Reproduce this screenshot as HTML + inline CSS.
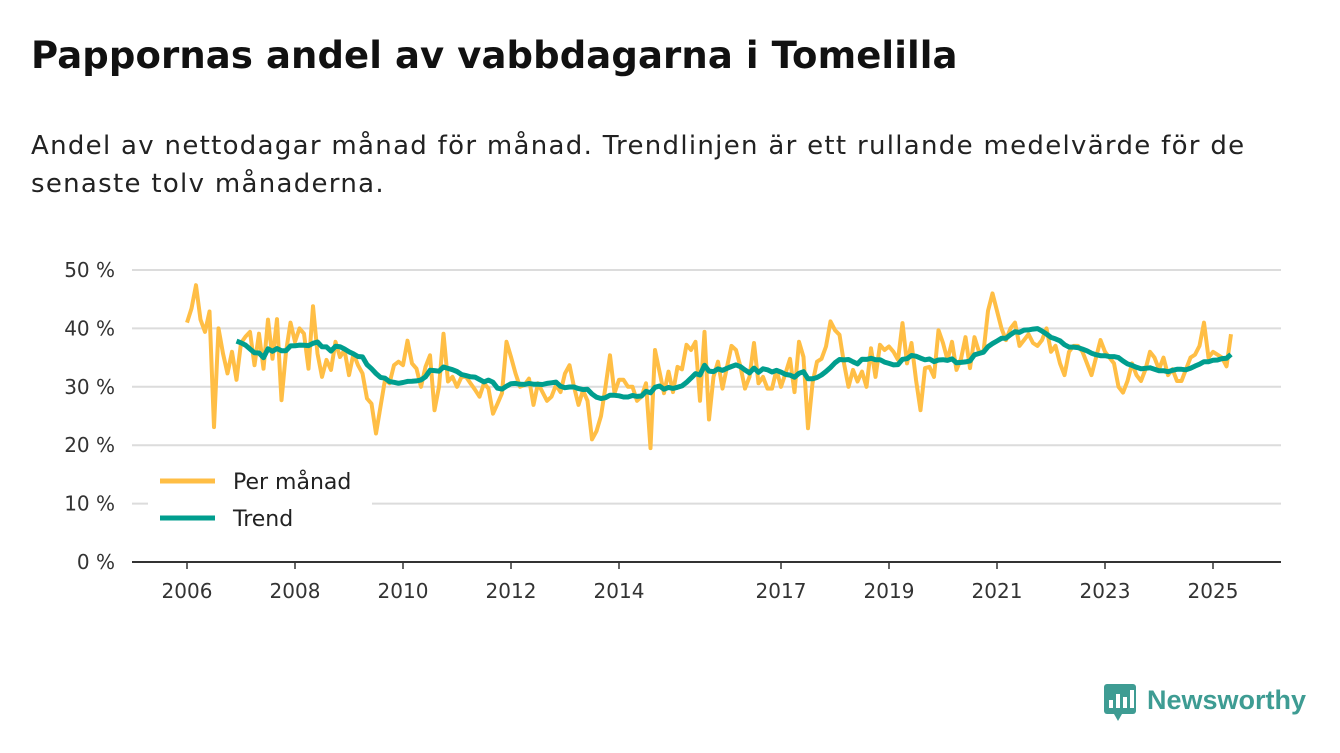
<!DOCTYPE html>
<html><head><meta charset="utf-8">
<style>
body{margin:0;width:1340px;height:753px;background:#fff;font-family:"DejaVu Sans","Liberation Sans",sans-serif;overflow:hidden;position:relative}
h1{position:absolute;left:31px;top:34px;margin:0;font-size:37px;font-weight:bold;color:#111;white-space:nowrap;letter-spacing:0.1px}
.sub{position:absolute;left:31px;top:127px;margin:0;font-size:26px;line-height:38px;color:#222;width:1300px;letter-spacing:1.3px;white-space:nowrap}
svg{position:absolute;left:0;top:0}
</style></head><body>
<h1>Pappornas andel av vabbdagarna i Tomelilla</h1>
<p class="sub">Andel av nettodagar månad för månad. Trendlinjen är ett rullande medelvärde för de<br>senaste tolv månaderna.</p>
<svg id="chart" width="1340" height="753"></svg>
<script>
const startYear = 2006;
const yTicks = [0,10,20,30,40,50];
const xTickYears = [2006,2008,2010,2012,2014,2017,2019,2021,2023,2025];
const monthly2006to2010 = [41,43.4,47.4,41.5,39.4,42.9,23.1,40,35.7,32.3,36,31.2,37.5,38.6,39.4,33.7,39.1,33.1,41.5,34.8,41.6,27.7,36,41,37.7,40,39.1,33.1,43.8,35.7,31.7,34.6,32.9,37.7,35.1,36.3,32,35.7,33.7,32.3,28,27.1,22,26.6,31.2,30.6,33.7,34.3,33.7,37.9,34,33.1,30,33.4,35.4,26,30,39.1,30.9];
const monthly2011to2015 = [31.7,30,31.7,31.7,30.6,29.5,28.3,30.6,29.7,25.4,27.1,28.9,37.7,35.1,32.3,30,30.3,31.4,26.9,30.6,29.1,27.6,28.3,30.3,29.1,32.3,33.7,30,26.9,29.4,27.6,21,22.4,25,30,35.4,28.9,31.2,31.2,30,30,27.6,28.3,30.6,19.5,36.3,32.6,28.9,32.6,29.1,33.4,33,37.2,36.3,37.7,27.6,39.4,24.4,31.7,34.3,29.7,33.4];
const monthly2016to2020 = [37,36.3,33.4,29.7,31.7,37.5,30.6,31.7,29.7,29.7,32.9,30,32.3,34.8,29.1,37.7,35.1,22.9,30.6,34.3,34.8,36.9,41.2,39.7,38.9,34,30,32.9,30.9,32.6,30,36.6,31.7,37.2,36.3,36.9,36,34.6,40.9,34,37.5,31.2,26,33.2,33.4,31.7,39.7,37.5,34.6,37.7,32.9,34.8,38.5,33.2,38.5];
const monthly2021to2025 = [36,36,43,46,43,40,38,40,41,37,38,39,37.5,37,38,40,36,37,34,32,36,37,37,36,34,32,35,38,36,35,34,30,29,31,34,32,31,33,36,35,33,35,32,33,31,31,33,35,35.5,37,41,35,36,35.5,35,33.5,39];
const monthly = monthly2006to2010.concat(monthly2011to2015, monthly2016to2020, monthly2021to2025);

const svg = document.getElementById('chart');
const NS = 'http://www.w3.org/2000/svg';
const X0 = 187, PXY = 54, Y0 = 562, PXP = 5.84;
const xScale = m => X0 + m * PXY / 12;
const yScale = v => Y0 - v * PXP;
function mk(tag, attrs){const e=document.createElementNS(NS,tag);for(const k in attrs)e.setAttribute(k,attrs[k]);svg.appendChild(e);return e;}

yTicks.forEach(t=>{
  if(t>0){const g=mk('line',{x1:132,x2:1281,y1:yScale(t),y2:yScale(t),stroke:'#dcdcdc','stroke-width':2});
  
  }
  const l=mk('text',{x:115,y:yScale(t)+7,'text-anchor':'end','font-size':20,fill:'#333'});
  l.textContent=t+' %';
  
  
});
const ax=mk('line',{x1:132,x2:1281,y1:Y0,y2:Y0,stroke:'#333','stroke-width':2});


xTickYears.forEach(yr=>{
  const x=xScale((yr-startYear)*12);
  const tk=mk('line',{x1:x,x2:x,y1:Y0,y2:Y0+7,stroke:'#333','stroke-width':1.5});
  
  
  const l=mk('text',{x:x,y:598,'text-anchor':'middle','font-size':20,fill:'#333'});
  l.textContent=yr;
  
  
});
const pts=monthly.map((v,i)=>xScale(i).toFixed(1)+','+yScale(v).toFixed(1)).join(' ');
const pl=mk('polyline',{points:pts,fill:'none',stroke:'#FFBE45','stroke-width':4,'stroke-linejoin':'round'});


const trend=[];
for(let i=11;i<monthly.length;i++){let s=0;for(let j=i-11;j<=i;j++)s+=monthly[j];trend.push(xScale(i).toFixed(1)+','+yScale(s/12).toFixed(1));}
const tl=mk('polyline',{points:trend.join(' '),fill:'none',stroke:'#009E8E','stroke-width':5,'stroke-linejoin':'round'});



const lb=mk('rect',{x:148,y:460,width:224,height:78,fill:'#fff'});


[['Per månad','#FFBE45',481],['Trend','#009E8E',518]].forEach(([t,c,y])=>{
  const ln=mk('line',{x1:160,x2:215,y1:y,y2:y,stroke:c,'stroke-width':5});
  
  
  const tx=mk('text',{x:233,y:y+8,'font-size':22,fill:'#222'});
  tx.textContent=t;
  
  
});
const logoBox=mk('rect',{x:1104,y:684,width:32,height:30,rx:3,fill:'#3E9C93'});


const logoTip=mk('polygon',{points:'1114,714 1122,714 1118,721',fill:'#3E9C93'});


[[1109,700,8],[1116,694,14],[1123,697,11],[1130,690,18]].forEach(([x,y,h])=>{
  const b=mk('rect',{x:x,y:y,width:4,height:h,fill:'#fff'});
  
  
});
const lt=mk('text',{x:1147,y:709,'font-size':27,'font-weight':'bold',fill:'#3E9C93','font-family':'Liberation Sans, sans-serif'});
lt.textContent='Newsworthy';


</script>
</body></html>
